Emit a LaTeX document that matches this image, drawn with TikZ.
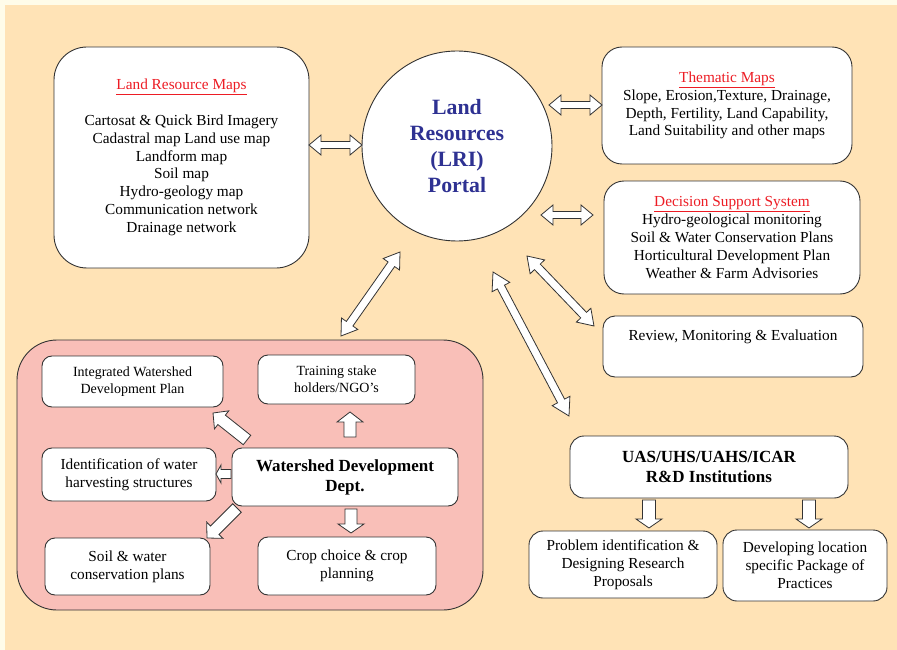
\documentclass[tikz,border=0pt]{standalone}
\usepackage{fontspec}
\setmainfont{Liberation Serif}
\usetikzlibrary{calc}
\definecolor{cream}{HTML}{FFFCE9}
\definecolor{peach}{HTML}{FFE3B6}
\definecolor{pinkbg}{HTML}{F9BFB8}
\definecolor{portalblue}{HTML}{2E3192}
\definecolor{titlered}{HTML}{ED1C24}
\newcommand\redtitle[1]{\textcolor{titlered}{\underline{#1}}}
\newcommand\sarrow[5]{%
 \draw[blk] let \p1=(#1), \p2=(#2), \n1={atan2(\y2-\y1,\x2-\x1)}, \n2={veclen(\x2-\x1,\y2-\y1)} in
 [shift={(\p1)}, rotate=\n1] (0,-#3) -- ({\n2-#5},-#3) -- ({\n2-#5},-#4) -- (\n2,0) -- ({\n2-#5},#4) -- ({\n2-#5},#3) -- (0,#3) -- cycle;}
\newcommand\darrow[5]{%
 \draw[blk] let \p1=(#1), \p2=(#2), \n1={atan2(\y2-\y1,\x2-\x1)}, \n2={veclen(\x2-\x1,\y2-\y1)} in
 [shift={(\p1)}, rotate=\n1] (0,0) -- (#5,#4) -- (#5,#3) -- ({\n2-#5},#3) -- ({\n2-#5},#4) -- (\n2,0) -- ({\n2-#5},-#4) -- ({\n2-#5},-#3) -- (#5,-#3) -- (#5,-#4) -- cycle;}
\begin{document}
\begin{tikzpicture}[x=1pt,y=-1pt,
  bx/.style={draw=black!80, line width=0.9pt, fill=white, rounded corners=#1, align=center, inner sep=0pt},
  bx/.default=10pt,
  blk/.style={draw=black!80, line width=0.8pt, fill=white, line join=miter},
  big/.style={font=\fontsize{15.3}{17.8}\selectfont},
  mid/.style={font=\fontsize{15.3}{18}\selectfont},
  sml/.style={font=\fontsize{14}{17}\selectfont},
  bld/.style={font=\fontsize{17}{20}\selectfont\bfseries}]
\useasboundingbox (0,0) rectangle (897,650);
\fill[cream] (0,0) rectangle (897,650);
\fill[peach] (5,5) rectangle (897,650);

% top boxes
\node[bx=33pt, big, minimum width=255pt, minimum height=221pt] (lrm) at (181.5,157.5)
 {\redtitle{Land Resource Maps}\\[17.8pt]
  Cartosat \& Quick Bird Imagery\\ Cadastral map Land use map\\ Landform map\\ Soil map\\
  Hydro-geology map\\ Communication network\\ Drainage network};
\node[circle, draw=black!80, line width=0.9pt, fill=white, minimum size=190pt, inner sep=0pt,
  align=center, text=portalblue, font=\fontsize{21.8}{26}\selectfont\bfseries] (portal) at (457,146)
 {Land\\ Resources\\ (LRI)\\ Portal};
\node[bx=20pt, big, minimum width=250pt, minimum height=117pt] (thm) at (727,105.5)
 {\redtitle{Thematic Maps}\\ Slope, Erosion,Texture, Drainage,\\ Depth, Fertility, Land Capability,\\ Land Suitability and other maps};
\node[bx=20pt, big, minimum width=256pt, minimum height=113pt] (dss) at (732,237.5)
 {\redtitle{Decision Support System}\\ Hydro-geological monitoring\\ Soil \& Water Conservation Plans\\ Horticultural Development Plan\\ Weather \& Farm Advisories};
\node[bx=12pt, mid, minimum width=260pt, minimum height=61pt] (rev) at (733,346.5)
 {Review, Monitoring \& Evaluation\\ \strut};
\node[bx=14pt, bld, minimum width=278pt, minimum height=62pt] (uas) at (709,467)
 {UAS/UHS/UAHS/ICAR\\ R\&D Institutions};
\node[bx=14pt, mid, minimum width=188pt, minimum height=67pt] (prob) at (623,564.5)
 {Problem identification \&\\ Designing Research\\ Proposals};
\node[bx=14pt, mid, minimum width=164pt, minimum height=71pt] (dev) at (805,565.5)
 {Developing location\\ specific Package of\\ Practices};

% watershed container
\node[draw=black!80, line width=0.9pt, fill=pinkbg, rounded corners=40pt,
  minimum width=466pt, minimum height=270pt] (ws) at (250,475) {};
\node[bx, sml, minimum width=181pt, minimum height=51pt] (iwdp) at (132.5,381.5)
 {Integrated Watershed\\ Development Plan};
\node[bx, sml, minimum width=157pt, minimum height=49pt] (trn) at (336.5,379.5)
 {Training stake\\ holders/NGO’s};
\node[bx, mid, minimum width=174pt, minimum height=53pt] (idf) at (129,474.5)
 {Identification of water\\ harvesting structures};
\node[bx, bld, minimum width=226pt, minimum height=58pt] (wdd) at (345,477)
 {Watershed Development\\ Dept.};
\node[bx, mid, minimum width=165pt, minimum height=57pt] (soil) at (127.5,566.5)
 {Soil \& water\\ conservation plans};
\node[bx, mid, minimum width=178pt, minimum height=58pt] (crop) at (347,566)
 {Crop choice \& crop\\ planning};

% arrow end points
\coordinate (a1s) at (309,145); \coordinate (a1e) at (362,145);
\coordinate (a2s) at (549,105); \coordinate (a2e) at (602,105);
\coordinate (a3s) at (541,215); \coordinate (a3e) at (593,215);
\coordinate (a4s) at (527,256); \coordinate (a4e) at (594,326);
\coordinate (a5s) at (493,272); \coordinate (a5e) at (569,416);
\coordinate (a6s) at (400,252); \coordinate (a6e) at (341,336);
\coordinate (u1s) at (649,500); \coordinate (u1e) at (649,528);
\coordinate (u2s) at (809,500); \coordinate (u2e) at (809,528);
\coordinate (w1s) at (350,437); \coordinate (w1e) at (350,412);
\coordinate (w2s) at (247,440); \coordinate (w2e) at (213,413);
\coordinate (w3s) at (231,474); \coordinate (w3e) at (216,474);
\coordinate (w4s) at (237,508); \coordinate (w4e) at (207,538);
\coordinate (w5s) at (351,509); \coordinate (w5e) at (351,533);

\darrow{a1s}{a1e}{3.5}{10}{12}
\darrow{a2s}{a2e}{3.5}{10}{12}
\darrow{a3s}{a3e}{3.5}{10}{12}
\darrow{a4s}{a4e}{4}{10}{15}
\darrow{a5s}{a5e}{4}{10}{17}
\darrow{a6s}{a6e}{4}{10}{15}

\sarrow{u1s}{u1e}{6.5}{13}{9}
\sarrow{u2s}{u2e}{6.5}{13}{9}
\sarrow{w1s}{w1e}{6}{13}{10}
\sarrow{w2s}{w2e}{6}{11.5}{11}
\sarrow{w3s}{w3e}{4.5}{9}{5}
\sarrow{w4s}{w4e}{6}{11.5}{11}
\sarrow{w5s}{w5e}{6}{13}{9}
\end{tikzpicture}
\end{document}
